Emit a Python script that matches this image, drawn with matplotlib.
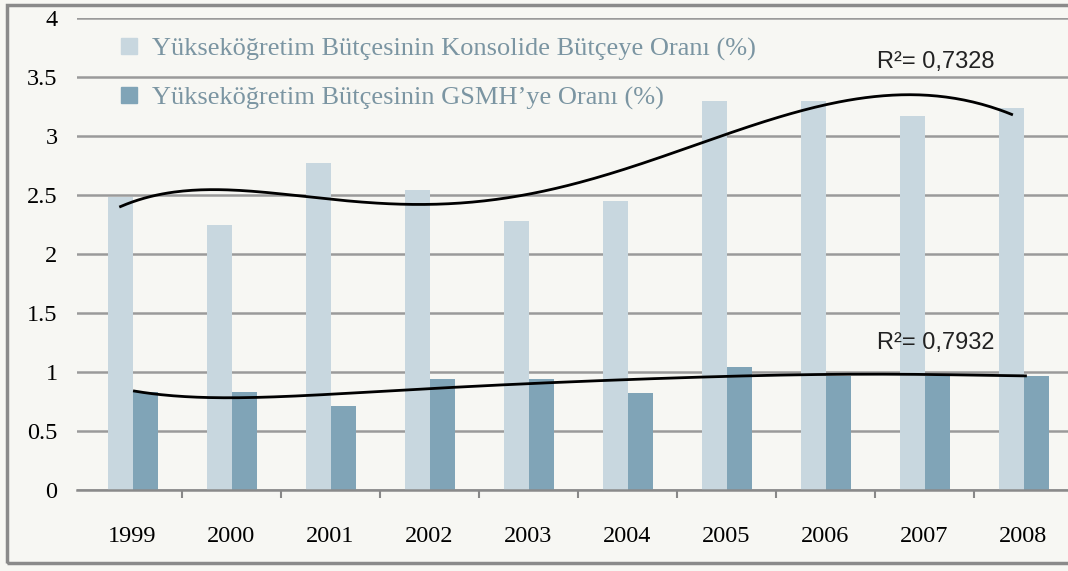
import numpy as np
import matplotlib.pyplot as plt
from matplotlib.patches import Rectangle
from matplotlib.lines import Line2D

# data
years = ["1999", "2000", "2001", "2002", "2003", "2004", "2005", "2006", "2007", "2008"]
konsolide = [2.48, 2.25, 2.77, 2.54, 2.28, 2.45, 3.30, 3.30, 3.17, 3.24]
gsmh = [0.83, 0.83, 0.71, 0.94, 0.94, 0.82, 1.04, 0.97, 0.97, 0.97]
r2_konsolide = "0,7328"
r2_gsmh = "0,7932"
labels = ["Yükseköğretim Bütçesinin Konsolide Bütçeye Oranı (%)",
          "Yükseköğretim Bütçesinin GSMH’ye Oranı (%)"]

c_light = "#c8d7df"
c_dark = "#80a4b7"
bg = "#f7f7f3"

fig = plt.figure(figsize=(10.68, 5.71), dpi=100, facecolor=bg)
ax = fig.add_axes([77/1068, 81/571, 996/1068, 472/571], facecolor=bg)

x = np.arange(len(years))
w = 0.25
ax.bar(x - 0.12, konsolide, w, color=c_light, zorder=2)
ax.bar(x + 0.13, gsmh, w, color=c_dark, zorder=2)

# polynomial trend lines
xs = np.linspace(0, 9, 300)
p1 = np.polyfit(x, konsolide, 5)
p2 = np.polyfit(x, gsmh, 6)
ax.plot(xs - 0.12, np.polyval(p1, xs), color="black", lw=2, zorder=3)
ax.plot(xs + 0.02, np.polyval(p2, xs), color="black", lw=2, zorder=3)

ax.text(7.52, 3.63, "R²= " + r2_konsolide, fontsize=17, family="Liberation Sans",
        va="center", color="#222222")
ax.text(7.52, 1.25, "R²= " + r2_gsmh, fontsize=17, family="Liberation Sans",
        va="center", color="#222222")

ax.set_xlim(-0.56, 9.5)
ax.set_ylim(0, 4)
ax.set_yticks(np.arange(0, 4.01, 0.5))
ax.set_yticklabels(["0", "0.5", "1", "1.5", "2", "2.5", "3", "3.5", "4"],
                   family="Liberation Serif", fontsize=17.5)
ax.yaxis.grid(True, color="#9a9a9a", lw=1.8, zorder=0)
ax.tick_params(axis="y", length=0, pad=14)

ax.set_xticks(x)
ax.set_xticklabels(years, family="Liberation Serif", fontsize=17.5)
ax.tick_params(axis="x", length=0, pad=26)
ax.set_xticks(np.arange(0.5, 9, 1), minor=True)
ax.tick_params(axis="x", which="minor", length=6, width=1.5, color="#888888", direction="out")

for s in ["top", "right", "left"]:
    ax.spines[s].set_visible(False)
ax.spines["bottom"].set_color("#8a8a8a")
ax.spines["bottom"].set_linewidth(1.8)

handles = [Line2D([], [], marker="s", ls="", color=c_light, markersize=11),
           Line2D([], [], marker="s", ls="", color=c_dark, markersize=11)]
leg = ax.legend(handles, labels, loc="upper left", bbox_to_anchor=(0.018, 1.01),
                frameon=False, prop={"family": "Liberation Serif", "size": 19},
                handlelength=0.8, handletextpad=0.45, labelspacing=0.95)
for t in leg.get_texts():
    t.set_color("#7b95a2")

# outer frame
fig.patches.append(Rectangle((7/1068, 8/571), 1.2, 558/571, transform=fig.transFigure,
                             fill=False, ec="#8a8a8a", lw=2.5))

fig.savefig("out.png", dpi=100, facecolor=bg)
